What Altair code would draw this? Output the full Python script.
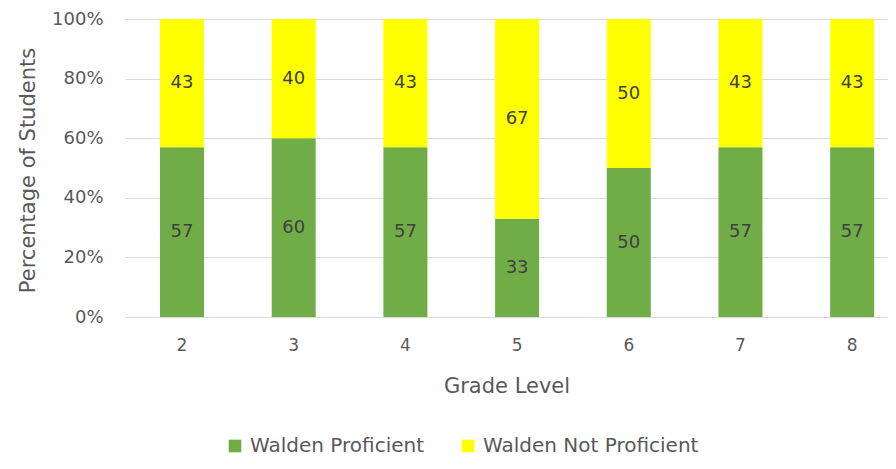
import altair as alt
import pandas as pd

grades = ["2", "3", "4", "5", "6", "7", "8"]
proficient = [57, 60, 57, 33, 50, 57, 57]
not_proficient = [43, 40, 43, 67, 50, 43, 43]
series = ["Walden Proficient", "Walden Not Proficient"]
colors = ["#70AD47", "#FFFF00"]
y_ticks = [0, 20, 40, 60, 80, 100]

rows = []
for g, p, n in zip(grades, proficient, not_proficient):
    rows.append({"grade": g, "status": series[0], "value": p, "ord": 0})
    rows.append({"grade": g, "status": series[1], "value": n, "ord": 1})
df = pd.DataFrame(rows)

FONT = "DejaVu Sans"
GREY = "#595959"

x_enc = alt.X(
    "grade:N",
    sort=grades,
    title="Grade Level",
    scale=alt.Scale(paddingInner=0.606, paddingOuter=0.2185, align=0.717),
    axis=alt.Axis(
        domain=False, ticks=False, grid=False, labelAngle=0, labelPadding=20,
        labelFontSize=17, labelColor=GREY, labelFont=FONT,
        titleFontSize=21, titleColor=GREY, titleFont=FONT,
        titleFontWeight="normal", titleY=69, titleBaseline="middle",
    ),
)

base = alt.Chart(df).transform_stack(
    stack="value", groupby=["grade"], as_=["y0", "y1"],
    sort=[alt.SortField("ord", order="ascending")],
).transform_calculate(mid="(datum.y0 + datum.y1) / 2")

bars = base.mark_bar().encode(
    x=x_enc,
    y=alt.Y(
        "y0:Q",
        scale=alt.Scale(domain=[0, 100], nice=False),
        title="Percentage of Students",
        axis=alt.Axis(
            values=y_ticks, labelExpr="datum.value + '%'",
            domain=False, ticks=False, grid=True, gridColor="#D9D9D9",
            labelPadding=22, labelFontSize=18, labelColor=GREY, labelFont=FONT,
            titleFontSize=21, titleColor=GREY, titleFont=FONT,
            titleFontWeight="normal", titleX=-97, titleY=151,
            titleBaseline="middle",
        ),
    ),
    y2="y1:Q",
    color=alt.Color(
        "status:N",
        scale=alt.Scale(domain=series, range=colors),
        sort=series,
        legend=alt.Legend(
            title=None, orient="none", direction="horizontal",
            legendX=100, legendY=417,
            symbolType="square", symbolSize=160, symbolStrokeWidth=0,
            labelFontSize=20, labelColor=GREY, labelFont=FONT,
            labelOffset=5, labelLimit=400, columnPadding=33,
        ),
    ),
)

labels = base.mark_text(fontSize=18, font=FONT, color="#404040").encode(
    x=alt.X("grade:N", sort=grades),
    y=alt.Y("mid:Q"),
    text=alt.Text("value:Q"),
)

chart = alt.layer(bars, labels).properties(
    width=763, height=298,
    autosize=alt.AutoSizeParams(type="none"),
    padding={"left": 117, "top": 11, "right": 0, "bottom": 144},
).configure(font=FONT).configure_view(
    strokeWidth=0, stroke="transparent"
).configure_axis(domain=False)

chart.save("out.html", embed_options={"renderer": "svg", "actions": False})
